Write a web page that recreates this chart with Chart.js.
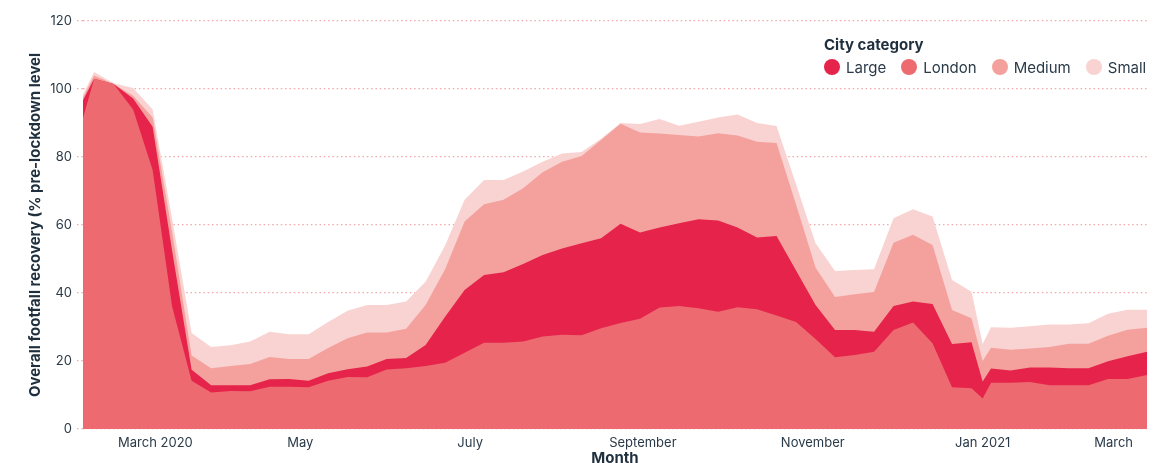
<!DOCTYPE html>
<html>
<head>
<meta charset="utf-8">
<script src="https://cdn.jsdelivr.net/npm/chart.js@4.4.1/dist/chart.umd.min.js"></script>
<style>
html,body{margin:0;padding:0;background:#fff;overflow:hidden;width:1154px;height:463px;}
#wrap{position:relative;width:1154px;height:478px;}
#legend{position:absolute;left:824px;top:36px;font-family:Inter,"Noto Sans",sans-serif;color:#1f2f3d;white-space:nowrap;}
#legend .ttl{font-weight:700;font-size:15px;line-height:18px;height:18px;}
#legend .row{display:flex;align-items:center;height:26px;}
#legend .item{display:flex;align-items:center;margin-right:15px;font-size:15px;color:#2a3a48;}
#legend .dot{width:16px;height:16px;border-radius:50%;margin-right:6px;}
</style>
</head>
<body>
<div id="wrap">
<canvas id="c" width="1154" height="478"></canvas>
<div id="legend"></div>
</div>
<script>
// ---- Data ----
const dates = [
  '2020-02-13','2020-02-17','2020-02-24','2020-03-02','2020-03-09','2020-03-16','2020-03-23','2020-03-30',
  '2020-04-06','2020-04-13','2020-04-20','2020-04-27','2020-05-04','2020-05-11','2020-05-18','2020-05-25',
  '2020-06-01','2020-06-08','2020-06-15','2020-06-22','2020-06-29','2020-07-06','2020-07-13','2020-07-20',
  '2020-07-27','2020-08-03','2020-08-10','2020-08-17','2020-08-24','2020-08-31','2020-09-07','2020-09-14',
  '2020-09-21','2020-09-28','2020-10-05','2020-10-12','2020-10-19','2020-10-26','2020-11-02','2020-11-09',
  '2020-11-16','2020-11-23','2020-11-30','2020-12-07','2020-12-14','2020-12-21','2020-12-28','2021-01-01',
  '2021-01-04','2021-01-11','2021-01-18','2021-01-25','2021-02-01','2021-02-08','2021-02-15','2021-02-22',
  '2021-03-01'
];

const london = [
  91.5,103,101.5,94,76.2,36,14.2,10.7,
  11.2,11.1,12.4,12.4,12.3,14.2,15.3,15.2,
  17.5,17.9,18.5,19.5,22.4,25.4,25.4,25.7,
  27.2,27.7,27.6,29.6,31.2,32.4,35.7,36.2,
  35.5,34.5,35.8,35.2,33.4,31.5,26.5,21.1,
  21.8,22.7,29.1,31.3,25.2,12.3,12,9,
  13.6,13.6,13.8,12.9,12.9,12.9,14.7,14.7,
  15.9
];
const large = [
  96.7,103,101.5,97.2,88.9,52.4,17.4,12.9,
  12.9,12.9,14.6,14.7,14.2,16.4,17.6,18.4,
  20.6,20.9,24.7,33,40.9,45.3,46.1,48.5,
  51.2,53.1,54.6,56.1,60.4,57.8,59.3,60.5,
  61.7,61.3,59.3,56.3,56.8,46.6,36.5,29.1,
  29.1,28.6,36.2,37.5,36.8,25,25.5,14,
  17.8,17.2,18.1,18.1,17.9,17.9,19.9,21.4,
  22.7
];
const medium = [
  97.5,104,101.5,98,91.6,57.9,21.6,17.9,
  18.5,19.1,21.2,20.6,20.6,23.8,26.7,28.4,
  28.4,29.5,36.5,47,61,66.1,67.4,70.8,
  75.5,78.6,80.3,85,89.8,87.2,86.9,86.5,
  86,87,86.3,84.5,84.1,66,47.5,38.8,
  39.6,40.3,54.8,57.1,54.1,35,32.6,20,
  23.9,23.3,23.7,24.1,25.1,25.1,27.4,29.2,
  29.8
];
const small = [
  98.4,105,101.7,100.3,94,61.8,28.2,24.1,
  24.6,25.7,28.6,27.9,27.9,31.5,34.8,36.5,
  36.5,37.5,43.3,54,67.4,73.2,73.2,75.7,
  78.6,81,81.5,85.4,90,89.7,91.2,89.2,
  90.4,91.6,92.5,90,89.1,72,54.6,46.5,
  46.8,47,62,64.6,62.5,43.8,40.4,25,
  29.9,29.8,30.2,30.7,30.7,31.1,33.9,35.1,
  35.1
];

const seriesNames = ['Large','London','Medium','Small'];
const tickLabels = ['March 2020','May','July','September','November','Jan 2021','March'];
const tickDates  = ['2020-03-10','2020-05-01','2020-07-01','2020-09-01','2020-11-01','2021-01-01','2021-02-17'];
const yTicks = [0,20,40,60,80,100,120];

// ---- Styling ----
const colors = {Large:'#e5234b', London:'#ec6a70', Medium:'#f4a19e', Small:'#f9d3d1'};
const drawOrder = {London:0, Large:1, Medium:2, Small:3}; // lower = on top
const FONT = 'Inter, "Noto Sans", sans-serif';
const TEXT = '#2a3a48';
const GRID = '#f2a9aa';

const base = Date.UTC(2020,1,17);
function dayOf(s){ const p=s.split('-').map(Number); return (Date.UTC(p[0],p[1]-1,p[2])-base)/86400000; }

const valuesBy = {Large:large, London:london, Medium:medium, Small:small};
const datasets = seriesNames.map(name => ({
  label: name,
  data: dates.map((d,i)=>({x:dayOf(d), y:valuesBy[name][i]})),
  backgroundColor: colors[name],
  borderColor: colors[name],
  borderWidth: 0,
  pointRadius: 0,
  fill: 'origin',
  tension: 0,
  order: drawOrder[name]
}));

new Chart(document.getElementById('c'), {
  type: 'line',
  data: { datasets },
  options: {
    responsive: false,
    animation: false,
    events: [],
    layout: { padding: { left: 0, right: 7, top: 21, bottom: 0 } },
    plugins: { legend: { display: false }, tooltip: { enabled: false } },
    scales: {
      x: {
        type: 'linear',
        min: dayOf(dates[0]),
        max: dayOf(dates[dates.length-1]),
        afterBuildTicks: s => { s.ticks = tickDates.map(d => ({ value: dayOf(d) })); },
        afterFit: s => { s.height = 49; },
        grid: { display: false, drawTicks: false },
        border: { display: false },
        ticks: {
          autoSkip: false, maxRotation: 0, minRotation: 0, padding: 6,
          font: { family: FONT, size: 13 }, color: TEXT,
          callback: (v, i) => tickLabels[i]
        },
        title: {
          display: true, text: 'Month', color: '#1f2f3d',
          font: { family: FONT, size: 15, weight: 'bold' },
          padding: { top: 0, bottom: 11 }
        }
      },
      y: {
        min: 0, max: 120,
        afterBuildTicks: s => { s.ticks = yTicks.map(v => ({ value: v })); },
        afterFit: s => { s.width = 83; },
        grid: {
          color: GRID, lineWidth: 1.3, drawTicks: true, tickLength: 6,
          tickColor: GRID, tickWidth: 1.3, tickBorderDash: [1.5, 2.8]
        },
        border: { display: false, dash: [1.5, 2.8] },
        ticks: { padding: 5, font: { family: FONT, size: 13 }, color: TEXT },
        title: {
          display: true, text: 'Overall footfall recovery (% pre-lockdown level', color: '#1f2f3d',
          font: { family: FONT, size: 15, weight: 'bold' },
          padding: { top: 26, bottom: 0 }
        }
      }
    }
  }
});

// ---- Legend (HTML, built from the datasets) ----
const lg = document.getElementById('legend');
const ttl = document.createElement('div'); ttl.className = 'ttl'; ttl.textContent = 'City category'; lg.appendChild(ttl);
const row = document.createElement('div'); row.className = 'row'; lg.appendChild(row);
seriesNames.forEach(n => {
  const it = document.createElement('div'); it.className = 'item';
  const dot = document.createElement('span'); dot.className = 'dot'; dot.style.background = colors[n];
  const tx = document.createElement('span'); tx.textContent = n;
  it.appendChild(dot); it.appendChild(tx); row.appendChild(it);
});
</script>
</body>
</html>
